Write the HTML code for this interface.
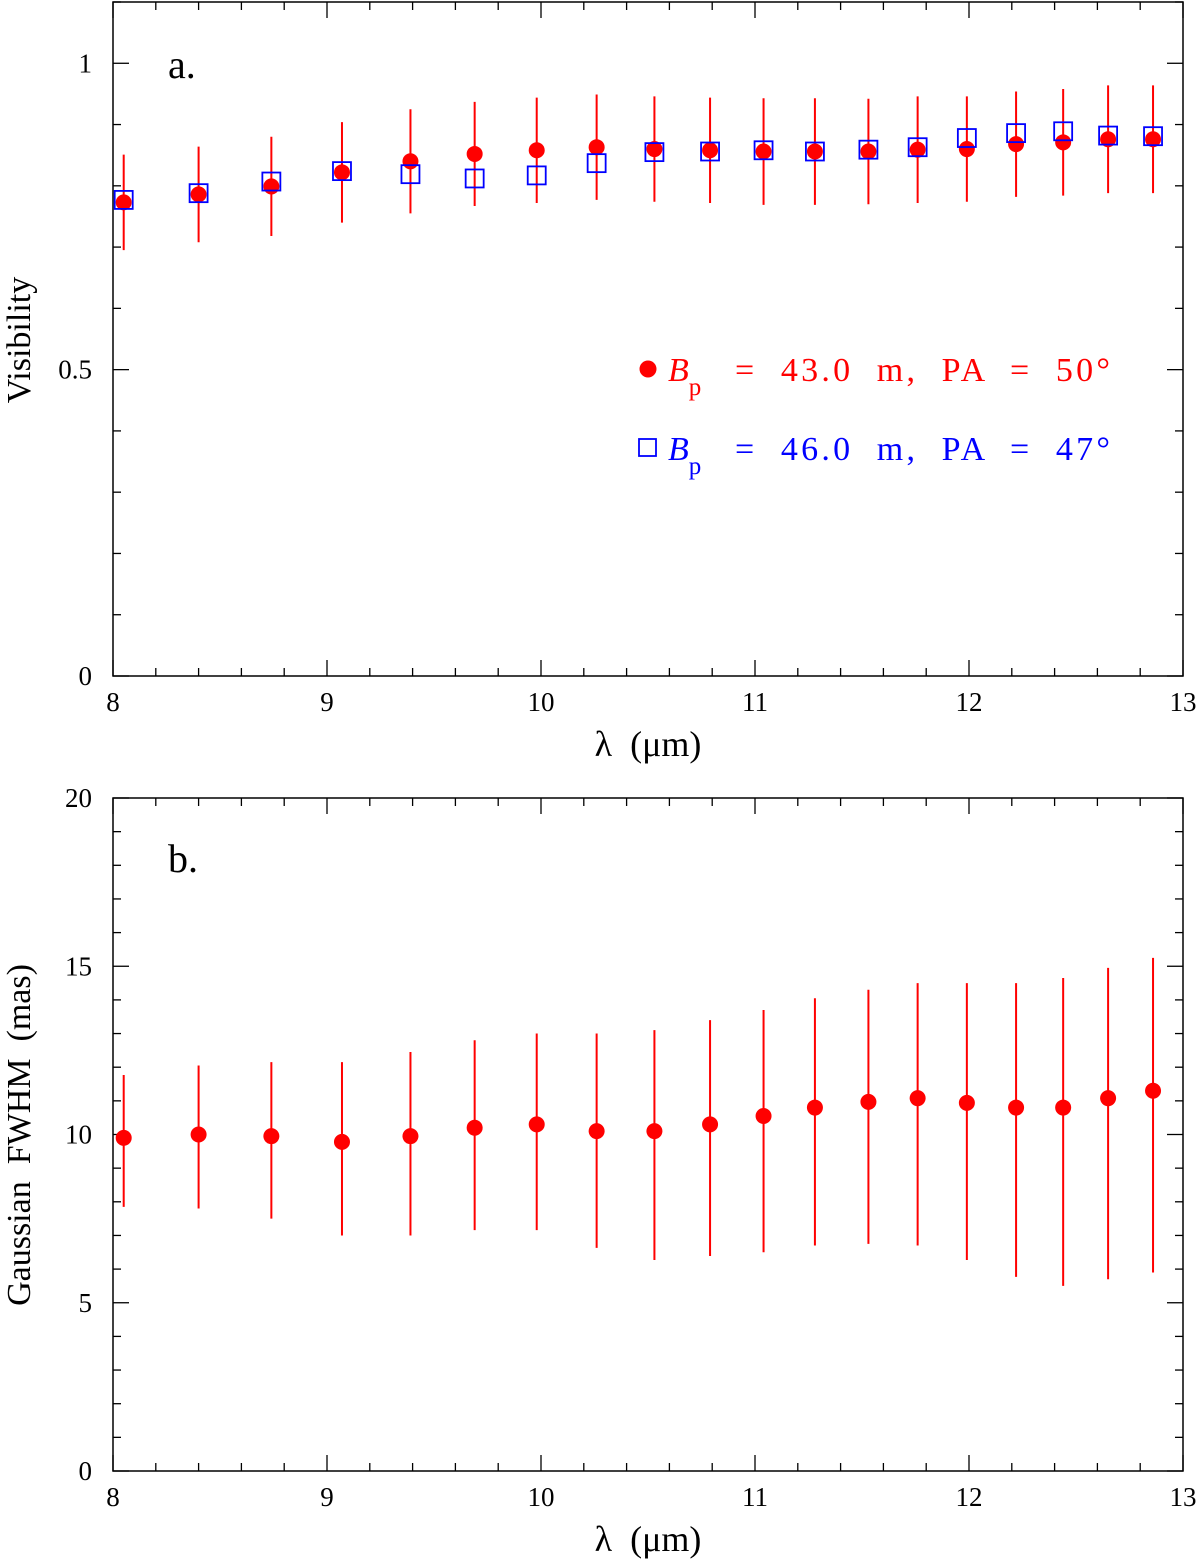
<!DOCTYPE html>
<html><head><meta charset="utf-8">
<style>
html,body{margin:0;padding:0;background:#fff;}
svg{display:block;}
text{font-family:"Liberation Serif",serif;}
.pre{white-space:pre;}
</style></head>
<body>
<svg id="chart" width="1200" height="1566" viewBox="0 0 1200 1566" xmlns="http://www.w3.org/2000/svg"></svg>
<script>
const wavelengths=[8.05,8.40,8.74,9.07,9.39,9.69,9.98,10.26,10.53,10.79,11.04,11.28,11.53,11.76,11.99,12.22,12.44,12.65,12.86];
const visRed=[0.773,0.786,0.799,0.822,0.840,0.852,0.858,0.863,0.860,0.858,0.856,0.856,0.856,0.859,0.860,0.868,0.871,0.876,0.876];
const visRedErr=[0.078,0.078,0.081,0.082,0.085,0.085,0.086,0.086,0.086,0.086,0.087,0.087,0.086,0.087,0.086,0.086,0.087,0.088,0.088];
const visBlue=[0.777,0.788,0.807,0.824,0.819,0.812,0.817,0.837,0.855,0.856,0.858,0.856,0.859,0.863,0.878,0.886,0.889,0.882,0.881];
const fwhm=[9.9,10.0,9.95,9.78,9.95,10.2,10.3,10.1,10.1,10.3,10.55,10.8,10.97,11.08,10.94,10.8,10.8,11.08,11.3];
const fwhmHi=[11.77,12.05,12.15,12.15,12.45,12.8,13.0,13.0,13.1,13.4,13.7,14.05,14.3,14.5,14.5,14.5,14.65,14.95,15.25];
const fwhmLo=[7.85,7.8,7.5,7.0,7.0,7.16,7.16,6.63,6.27,6.39,6.5,6.7,6.75,6.7,6.27,5.77,5.5,5.7,5.9];
const xTicks=[8,9,10,11,12,13];
const visTicks=[0,0.5,1];
const visTickLabels=["0","0.5","1"];
const fwhmTicks=[0,5,10,15,20];

const NS="http://www.w3.org/2000/svg";
const svg=document.getElementById('chart');
function el(tag,attrs,parent,txt){const e=document.createElementNS(NS,tag);for(const k in attrs)e.setAttribute(k,attrs[k]);if(txt!==undefined)e.textContent=txt;(parent||svg).appendChild(e);return e;}

const L=113,R=1183;
const xS=v=>L+(v-8)*(R-L)/5;
const A={top:2,bottom:676,min:0,max:1.1};
const B={top:798,bottom:1471,min:0,max:20};
const yA=v=>A.bottom-(v-A.min)*(A.bottom-A.top)/(A.max-A.min);
const yB=v=>B.bottom-(v-B.min)*(B.bottom-B.top)/(B.max-B.min);

function frame(P,yS,minorStep,majorStep,ymax,name){
  const g=el('g',{});
  
  
  el('rect',{x:L,y:P.top,width:R-L,height:P.bottom-P.top,fill:'none',stroke:'#000','stroke-width':1.5},g);
  for(let v=8;v<=13.001;v+=0.2){
    const x=xS(v);const maj=Math.abs(v-Math.round(v))<1e-6;const len=maj?16:8;
    el('line',{x1:x,y1:P.bottom,x2:x,y2:P.bottom-len,stroke:'#000','stroke-width':1.3},g);
    el('line',{x1:x,y1:P.top,x2:x,y2:P.top+len,stroke:'#000','stroke-width':1.3},g);
  }
  for(let v=0;v<=ymax+1e-9;v+=minorStep){
    const y=yS(v);const maj=Math.abs(v/majorStep-Math.round(v/majorStep))<1e-6;const len=maj?16:8;
    el('line',{x1:L,y1:y,x2:L+len,y2:y,stroke:'#000','stroke-width':1.3},g);
    el('line',{x1:R,y1:y,x2:R-len,y2:y,stroke:'#000','stroke-width':1.3},g);
  }
  xTicks.forEach(t=>{
    const tx=el('text',{x:xS(t),y:P.bottom+35,'font-size':27,'text-anchor':'middle','font-family':'Liberation Sans, sans-serif'},g,String(t));
    
    
  });
  const xt=el('text',{x:(L+R)/2,y:P.bottom+80,'font-size':36,'text-anchor':'middle',class:'pre'},g,'λ  (μm)');
  
  
}

frame(A,yA,0.1,0.5,1.1,'panel-a');
visTicks.forEach((t,i)=>{
  const tx=el('text',{x:92,y:yA(t)+9,'font-size':27,'text-anchor':'end','font-family':'Liberation Sans, sans-serif'},svg,visTickLabels[i]);
  
  
});
let t=el('text',{x:30,y:340,'font-size':34,'text-anchor':'middle',transform:'rotate(-90 30 340)'},svg,'Visibility');


t=el('text',{x:168,y:78,'font-size':40},svg,'a.');



wavelengths.forEach((w,i)=>{
  const x=xS(w);
  const eb=el('line',{x1:x,y1:yA(visRed[i]+visRedErr[i]),x2:x,y2:yA(visRed[i]-visRedErr[i]),stroke:'#f00','stroke-width':2});
  
  
  const c=el('circle',{cx:x,cy:yA(visRed[i]),r:8,fill:'#f00'});
  
  
  const s=el('rect',{x:x-9,y:yA(visBlue[i])-9,width:18,height:18,fill:'none',stroke:'#00f','stroke-width':1.8});
  
  
});

// legend
const lg=el('g',{});


el('circle',{cx:648,cy:369,r:8.5,fill:'#f00'},lg);
let lt=el('text',{x:668,y:381,'font-size':34,fill:'#f00'},lg);
el('tspan',{'font-style':'italic'},lt,'B');
el('tspan',{dy:14,'font-size':25},lt,'p');
el('text',{x:735,y:381,'font-size':34,fill:'#f00',class:'pre',textLength:375,lengthAdjust:'spacing'},lg,'=  43.0  m,  PA  =  50°');
el('rect',{x:639,y:439,width:17,height:17,fill:'none',stroke:'#00f','stroke-width':1.8},lg);
lt=el('text',{x:668,y:460,'font-size':34,fill:'#00f'},lg);
el('tspan',{'font-style':'italic'},lt,'B');
el('tspan',{dy:14,'font-size':25},lt,'p');
el('text',{x:735,y:460,'font-size':34,fill:'#00f',class:'pre',textLength:375,lengthAdjust:'spacing'},lg,'=  46.0  m,  PA  =  47°');

frame(B,yB,1,5,20,'panel-b');
fwhmTicks.forEach(v=>{
  const tx=el('text',{x:92,y:yB(v)+9,'font-size':27,'text-anchor':'end','font-family':'Liberation Sans, sans-serif'},svg,String(v));
  
  
});
t=el('text',{x:30,y:1135,'font-size':34,'text-anchor':'middle',class:'pre',transform:'rotate(-90 30 1135)'},svg,'Gaussian  FWHM  (mas)');


t=el('text',{x:168,y:872,'font-size':40},svg,'b.');



wavelengths.forEach((w,i)=>{
  const x=xS(w);
  const eb=el('line',{x1:x,y1:yB(fwhmHi[i]),x2:x,y2:yB(fwhmLo[i]),stroke:'#f00','stroke-width':2});
  
  
  const c=el('circle',{cx:x,cy:yB(fwhm[i]),r:8,fill:'#f00'});
  
  
});
</script>
</body></html>
